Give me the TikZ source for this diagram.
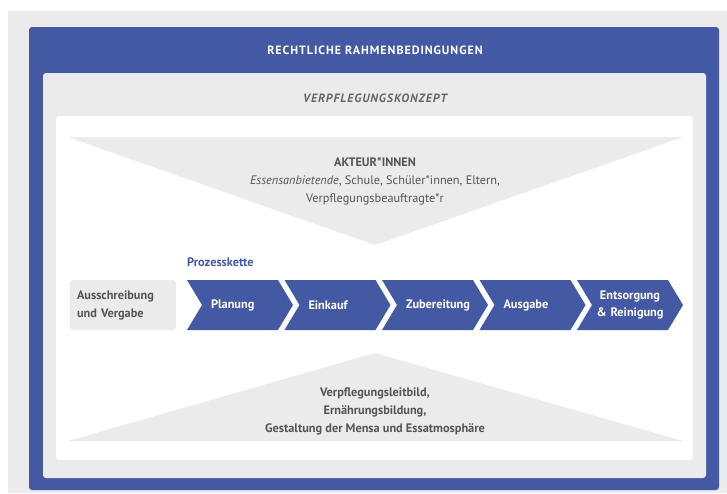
\documentclass[tikz,border=0pt]{standalone}
\usepackage{fontspec}
\setmainfont{PT Sans}
\usetikzlibrary{shapes.symbols,positioning}
\definecolor{bmblue}{HTML}{4459A3}
\definecolor{bmgray}{HTML}{EBEBEB}
\definecolor{bmtext}{HTML}{555555}

\begin{document}
\begin{tikzpicture}[x=1pt,y=-1pt, every node/.style={font=\fontsize{12.3}{18}\selectfont\bfseries, text=bmtext, inner sep=0pt},
    chev/.style={signal, signal to=east, signal from=west, signal pointer angle=118,
        fill=bmblue, text=white, minimum width=106pt, minimum height=50pt,
        text width=58pt, align=left},
    greybox/.style={rounded corners=3pt, fill=bmgray, minimum width=106pt, minimum height=50pt,
        align=left, text width=92pt},
    heading/.style={font=\fontsize{12}{18}\selectfont\bfseries\addfontfeature{LetterSpace=8}}]
    \useasboundingbox (0,0) rectangle (727,493);
    % frames
    \fill[bmgray] (8,11) rectangle (727,493);
    \fill[bmblue, rounded corners=3pt] (29,27) rectangle (719,490);
    \fill[bmgray, rounded corners=3pt] (43,73) rectangle (706,478);
    \fill[white, rounded corners=3pt] (56,116) rectangle (693,460);
    \fill[bmgray] (68,137) -- (683,137) [rounded corners=3pt] -- (375,245) [sharp corners] -- cycle;
    \fill[bmgray] (68,441) -- (683,441) [rounded corners=3pt] -- (375,353) [sharp corners] -- cycle;

    \node[heading, text=white] (recht) at (375,50) {RECHTLICHE RAHMENBEDINGUNGEN};
    \node[heading, text=bmtext!90] (konzept) at (375,98) {\itshape VERPFLEGUNGSKONZEPT};
    \node[align=center] (akteure) at (375,181) {AKTEUR*INNEN\\
        \mdseries\textit{Essensanbietende}, Schule, Schüler*innen, Eltern,\\
        \mdseries Verpflegungsbeauftragte*r};
    \node[align=center] (leitbild) at (375,411) {Verpflegungsleitbild,\\
        Ernährungsbildung,\\ Gestaltung der Mensa und Essatmosphäre};

    % prozesskette
    \node[greybox] (vergabe) at (123,305) {Ausschreibung\\und Vergabe};
    \node[chev] (planung) at (240,305) {Planung};
    \node[chev] (einkauf) at (337.5,305) {Einkauf};
    \node[chev] (zubereitung) at (435,305) {Zubereitung};
    \node[chev] (ausgabe) at (532.5,305) {Ausgabe};
    \node[chev, text width=70pt, align=center, font=\fontsize{12.3}{17}\selectfont\bfseries]
        (entsorgung) at (630,305) {Entsorgung\\\& Reinigung};
    \node[text=bmblue, anchor=west] (prozess) at (187,262) {Prozesskette};
\end{tikzpicture}
\end{document}
